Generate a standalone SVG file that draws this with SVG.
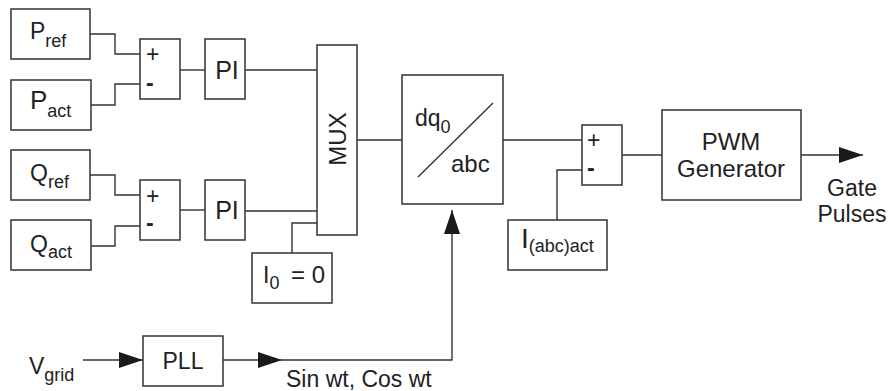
<svg xmlns="http://www.w3.org/2000/svg" width="891" height="391" viewBox="0 0 891 391">
<defs>
<style>
.box{fill:#fff;stroke:#333;stroke-width:1.5}
.ln{fill:none;stroke:#333;stroke-width:1.4}
text{font-family:"Liberation Sans",Arial,Helvetica,sans-serif;fill:#222}
.m{text-anchor:middle}
</style>
<marker id="ah" markerUnits="userSpaceOnUse" markerWidth="24" markerHeight="16" refX="24" refY="8" orient="auto" viewBox="0 0 24 16">
<path d="M0,0 L24,8 L0,16 z" fill="#1a1a1a"/>
</marker>
</defs>
<rect width="891" height="391" fill="#fff"/>
<g id="connectors">
<path class="ln" d="M90,34 H115 V54 H140"/>
<path class="ln" d="M91,105 H115 V84 H140"/>
<path class="ln" d="M180,70 H205"/>
<path class="ln" d="M245,70 H317"/>
<path class="ln" d="M90,175 H115 V195 H140"/>
<path class="ln" d="M90,246 H115 V226 H140"/>
<path class="ln" d="M180,210 H205"/>
<path class="ln" d="M245,211 H317"/>
<path class="ln" d="M292,253 V223 H317"/>
<path class="ln" d="M357,140 H402"/>
<path class="ln" d="M503,140 H582"/>
<path class="ln" d="M582,170 H557 V220"/>
<path class="ln" d="M622,155 H662"/>
<path class="ln" d="M801,155 H863" marker-end="url(#ah)"/>
<path class="ln" d="M83,360 H143" marker-end="url(#ah)"/>
<path class="ln" d="M223,360 H282" marker-end="url(#ah)"/>
<path class="ln" d="M282,360 H452 V210" marker-end="url(#ah)"/>
</g>
<g id="pref"><rect class="box" x="11" y="9" width="79" height="50"/><text x="30" y="39" font-size="23">P<tspan font-size="18" dy="8">ref</tspan></text></g>
<g id="pact"><rect class="box" x="11" y="80" width="80" height="50"/><text x="30" y="109" font-size="26">P<tspan font-size="18" dy="8">act</tspan></text></g>
<g id="sum1"><rect class="box" x="140" y="39" width="40" height="60"/><text x="146" y="62" font-size="23">+</text><text x="146" y="91" font-size="23" font-weight="bold">-</text></g>
<g id="pi1"><rect class="box" x="205" y="39" width="40" height="60"/><text class="m" x="227" y="79" font-size="25">PI</text></g>
<g id="qref"><rect class="box" x="11" y="150" width="79" height="50"/><text x="30" y="181" font-size="23">Q<tspan font-size="18" dy="7">ref</tspan></text></g>
<g id="qact"><rect class="box" x="11" y="220" width="80" height="50"/><text x="30" y="252" font-size="23">Q<tspan font-size="18" dy="6">act</tspan></text></g>
<g id="sum2"><rect class="box" x="140" y="180" width="40" height="60"/><text x="146" y="204" font-size="23">+</text><text x="146" y="231" font-size="23" font-weight="bold">-</text></g>
<g id="pi2"><rect class="box" x="205" y="180" width="40" height="60"/><text class="m" x="227" y="219" font-size="25">PI</text></g>
<g id="i0"><rect class="box" x="252" y="253" width="80" height="50"/><text x="263" y="283" font-size="23">I<tspan font-size="18" dy="6">0</tspan></text><text x="291" y="283" font-size="24">= 0</text></g>
<g id="mux"><rect class="box" x="317" y="45" width="40" height="190"/><text class="m" transform="translate(346,139) rotate(-90)" font-size="24">MUX</text></g>
<g id="dq0"><rect class="box" x="402" y="75" width="101" height="129"/><line class="ln" x1="418" y1="177" x2="493" y2="103"/><text x="415" y="126" font-size="23">dq<tspan font-size="18" dy="7">0</tspan></text><text x="451" y="172" font-size="24">abc</text></g>
<g id="sum3"><rect class="box" x="582" y="125" width="40" height="60"/><text x="587" y="148" font-size="23">+</text><text x="587" y="176" font-size="23" font-weight="bold">-</text></g>
<g id="iabc"><rect class="box" x="508" y="220" width="99" height="50"/><text x="521" y="248" font-size="28">I<tspan font-size="18" dy="4">(abc)act</tspan></text></g>
<g id="pwm"><rect class="box" x="662" y="110" width="139" height="90"/><text class="m" x="731" y="150" font-size="24">PWM</text><text class="m" x="731" y="177" font-size="24">Generator</text></g>
<g id="gate"><text class="m" x="852" y="196" font-size="23">Gate</text><text class="m" x="852" y="222" font-size="23">Pulses</text></g>
<g id="vgrid"><text x="29" y="374" font-size="23">V<tspan font-size="18" dy="7">grid</tspan></text></g>
<g id="pll"><rect class="box" x="143" y="336" width="80" height="50"/><text class="m" x="183" y="369" font-size="23">PLL</text></g>
<g id="sincos"><text x="286" y="387" font-size="23">Sin wt, Cos wt</text></g>
</svg>
